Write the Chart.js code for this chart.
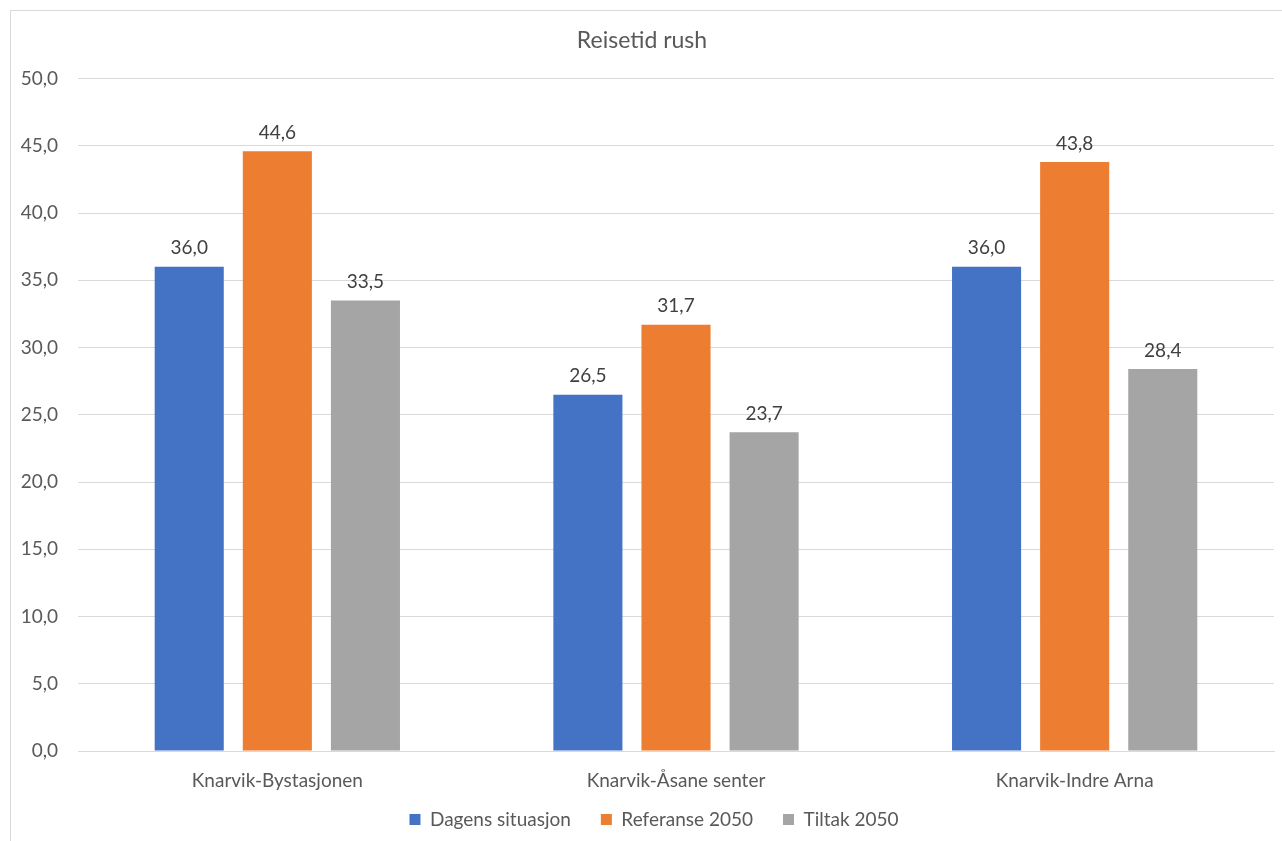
<!DOCTYPE html>
<html>
<head>
<meta charset="utf-8">
<script src="https://cdn.jsdelivr.net/npm/chart.js@4/dist/chart.umd.min.js"></script>
<style>
  html, body { margin: 0; padding: 0; background: #ffffff; }
  canvas { display: block; }
</style>
</head>
<body>
<canvas id="c" width="1282" height="841"></canvas>
<script>
// Travel times in rush hour (minutes)
const categories = ['Knarvik-Bystasjonen', 'Knarvik-Åsane senter', 'Knarvik-Indre Arna'];
const dagens = [36.0, 26.5, 36.0];
const referanse = [44.6, 31.7, 43.8];
const tiltak = [33.5, 23.7, 28.4];
const seriesNames = ['Dagens situasjon', 'Referanse 2050', 'Tiltak 2050'];
const seriesColors = ['#4472C4', '#ED7D31', '#A5A5A5'];
const yMin = 0, yMax = 50, yStep = 5;

const fmt = v => v.toFixed(1).replace('.', ',');
const FONT = 'Lato, "Open Sans", sans-serif';
const TEXT_SIZE = 19;
const LEGEND_GAP = 30;     // horizontal gap between legend entries
const LEGEND_BOX_H = 43;   // height reserved for the legend row
const LEGEND_LIFT = 12;    // pull the legend row up towards the axis labels
const LEGEND_SHIFT = 12;   // small horizontal offset of the legend row

// Light frame around the chart area
const framePlugin = {
  id: 'frame',
  beforeDraw(chart) {
    const ctx = chart.ctx;
    ctx.save();
    ctx.strokeStyle = '#D9D9D9';
    ctx.lineWidth = 1;
    ctx.strokeRect(10.5, 10.5, chart.width + 20, chart.height + 20);
    ctx.restore();
  }
};

// Keep wide horizontal spacing between legend entries without a tall legend box
const legendFit = {
  id: 'legendFit',
  afterInit(chart) {
    const lg = chart.legend;
    const fit = lg.fit;
    lg.fit = function () { fit.call(this); this.height = LEGEND_BOX_H; };
  },
  afterLayout(chart) {
    const lg = chart.legend;
    lg.top -= LEGEND_LIFT;
    lg.left += LEGEND_SHIFT;
    lg.right += LEGEND_SHIFT;
  }
};

// Value labels above each bar
const valueLabels = {
  id: 'valueLabels',
  afterDatasetsDraw(chart) {
    const ctx = chart.ctx;
    ctx.save();
    ctx.font = TEXT_SIZE + 'px ' + FONT;
    ctx.fillStyle = '#404040';
    ctx.textAlign = 'center';
    ctx.textBaseline = 'bottom';
    chart.data.datasets.forEach((ds, i) => {
      chart.getDatasetMeta(i).data.forEach((bar, j) => {
        ctx.fillText(fmt(ds.data[j]), bar.x, bar.y - 9);
      });
    });
    ctx.restore();
  }
};

Chart.defaults.font.family = FONT;
Chart.defaults.color = '#595959';

new Chart(document.getElementById('c'), {
  type: 'bar',
  data: {
    labels: categories,
    datasets: [dagens, referanse, tiltak].map((d, i) => ({
      label: seriesNames[i],
      data: d,
      backgroundColor: seriesColors[i],
      barPercentage: 0.784,
      categoryPercentage: 0.663
    }))
  },
  options: {
    responsive: false,
    animation: false,
    layout: { padding: { left: 10, right: 8, top: 14, bottom: 6 } },
    plugins: {
      title: {
        display: true,
        text: 'Reisetid rush',
        color: '#595959',
        font: { size: 23, weight: 'normal' },
        padding: { top: 13, bottom: 24 }
      },
      legend: {
        position: 'bottom',
        labels: {
          boxWidth: 11,
          boxHeight: 11,
          padding: LEGEND_GAP,
          color: '#595959',
          font: { size: TEXT_SIZE }
        }
      },
      tooltip: { enabled: false }
    },
    scales: {
      x: {
        grid: { display: false },
        border: { color: '#D9D9D9' },
        ticks: { color: '#595959', font: { size: TEXT_SIZE }, padding: 10 },
        afterFit(scale) { scale.height = 41; }
      },
      y: {
        min: yMin,
        max: yMax,
        grid: { color: '#D9D9D9', drawTicks: false },
        border: { display: false },
        ticks: {
          stepSize: yStep,
          padding: 20,
          color: '#595959',
          font: { size: TEXT_SIZE },
          callback: v => fmt(v)
        },
        afterFit(scale) { scale.width = 68; }
      }
    }
  },
  plugins: [framePlugin, legendFit, valueLabels]
});
</script>
</body>
</html>
